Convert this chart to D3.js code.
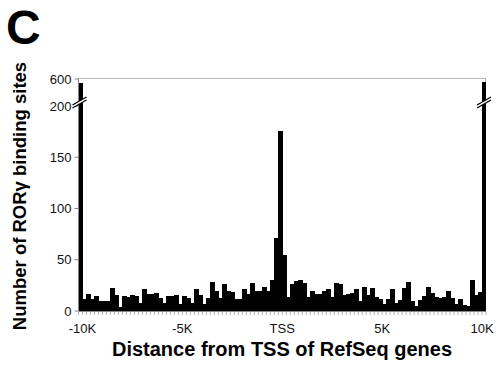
<!DOCTYPE html>
<html>
<head>
<meta charset="utf-8">
<script src="https://cdn.jsdelivr.net/npm/d3@7"></script>
<style>
body { margin: 0; background: #fff; }
svg { display: block; font-family: "Liberation Sans", Arial, sans-serif; }
</style>
</head>
<body>
<div id="chart"></div>
<script>
// bins: <-10K, 100 bins of 200bp, >10K
const counts = [
	580, 12, 17, 12, 15, 10, 10, 10, 22, 16, 4, 15, 14, 16, 15, 8, 21, 17, 17, 18,
	13, 8, 15, 15, 16, 7, 15, 13, 8, 21, 16, 7, 13, 28, 20, 13, 26, 20, 19, 12,
	12, 21, 17, 27, 20, 20, 23, 20, 30, 71, 176, 55, 14, 26, 29, 30, 27, 14, 20, 17,
	17, 20, 21, 14, 27, 26, 16, 17, 18, 21, 10, 23, 16, 22, 14, 12, 7, 12, 21, 8,
	11, 22, 28, 10, 5, 11, 15, 23, 18, 14, 13, 14, 20, 13, 7, 12, 6, 5, 30, 16,
	19, 585
];
const lowTicks = [0, 50, 100, 150, 200];
const highTicks = [600];
const xTickPos = [-10000, -5000, 0, 5000, 10000];
const xTickLabels = ["-10K", "-5K", "TSS", "5K", "10K"];

const W = 498, H = 366;
const left = 78.5, right = 486, base = 311;

const svg = d3.select("#chart").append("svg")
	.attr("width", W).attr("height", H);

// x band per bin, and a linear scale in bp for the labels
const x = d3.scaleBand().domain(d3.range(counts.length)).range([left, right]).padding(0);
const xbp = d3.scaleLinear().domain([-10200, 10200]).range([left, right]);

// broken y axis: low segment 0-200, high segment 500-600
const yLow = d3.scaleLinear().domain([0, 200]).range([base, 106]);
const yHigh = d3.scaleLinear().domain([500, 600]).range([100, 79]);
function yVal(v) { return v <= 200 ? yLow(v) : yHigh(v); }

// top frame
svg.append("line")
	.attr("x1", left).attr("x2", right).attr("y1", 78.5).attr("y2", 78.5)
	.attr("stroke", "#b5b5b5").attr("stroke-width", 1);
svg.append("line")
	.attr("x1", right - 0.5).attr("x2", right - 0.5).attr("y1", 78.5).attr("y2", 84)
	.attr("stroke", "#b5b5b5").attr("stroke-width", 1);

// bars (slightly overlapped so no hairline gaps show)
svg.append("g")
	.attr("shape-rendering", "crispEdges")
	.selectAll("rect")
	.data(counts)
	.join("rect")
	.attr("x", (d, i) => x(i))
	.attr("width", (d, i) => i < counts.length - 1 ? x.bandwidth() + 1 : x.bandwidth())
	.attr("y", d => yVal(d))
	.attr("height", d => base - yVal(d))
	.attr("fill", "#000");

// y axis line
svg.append("line")
	.attr("x1", left).attr("x2", left).attr("y1", 78.5).attr("y2", base)
	.attr("stroke", "#888").attr("stroke-width", 1);

const yAxisG = svg.append("g").attr("font-size", 13).attr("fill", "#111");
function addYTick(v, yy) {
	yAxisG.append("line")
		.attr("x1", left - 4).attr("x2", left).attr("y1", yy).attr("y2", yy)
		.attr("stroke", "#888");
	yAxisG.append("text")
		.attr("x", left - 7).attr("y", yy + 4.5)
		.attr("text-anchor", "end")
		.text(v);
}
lowTicks.forEach(v => addYTick(v, yLow(v)));
highTicks.forEach(v => addYTick(v, yHigh(v)));

// break marks
function breakMark(cx, cy) {
	const g = svg.append("g");
	g.append("polygon")
		.attr("points", [[cx - 7, cy + 4], [cx + 7, cy - 4], [cx + 7, cy - 1], [cx - 7, cy + 7]].join(" "))
		.attr("fill", "#fff");
	g.append("line").attr("x1", cx - 7).attr("y1", cy + 4).attr("x2", cx + 7).attr("y2", cy - 4)
		.attr("stroke", "#000").attr("stroke-width", 1.2);
	g.append("line").attr("x1", cx - 7).attr("y1", cy + 7).attr("x2", cx + 7).attr("y2", cy - 1)
		.attr("stroke", "#000").attr("stroke-width", 1.2);
}
breakMark(left + 1, 101);
breakMark(right - 2, 101);

// x axis
svg.append("line")
	.attr("x1", left).attr("x2", right).attr("y1", base + 0.5).attr("y2", base + 0.5)
	.attr("stroke", "#888");
svg.append("g").selectAll("line")
	.data(d3.range(counts.length + 1))
	.join("line")
	.attr("x1", i => i < counts.length ? x(i) : right)
	.attr("x2", i => i < counts.length ? x(i) : right)
	.attr("y1", base + 1).attr("y2", base + 4)
	.attr("stroke", "#999").attr("stroke-width", 0.8);

svg.append("g").selectAll("text")
	.data(xTickPos)
	.join("text")
	.attr("x", d => xbp(d))
	.attr("y", 333)
	.attr("text-anchor", "middle")
	.attr("font-size", 13)
	.attr("fill", "#111")
	.text((d, i) => xTickLabels[i]);

// titles
svg.append("text")
	.attr("x", 282).attr("y", 356)
	.attr("text-anchor", "middle")
	.attr("font-size", 20).attr("font-weight", "bold")
	.text("Distance from TSS of RefSeq genes");

svg.append("text")
	.attr("transform", "translate(26,196) rotate(-90)")
	.attr("text-anchor", "middle")
	.attr("font-size", 18.5).attr("font-weight", "bold")
	.text("Number of RORγ binding sites");

svg.append("text")
	.attr("x", 6).attr("y", 44)
	.attr("font-size", 48).attr("font-weight", "bold")
	.text("C");
</script>
</body>
</html>
